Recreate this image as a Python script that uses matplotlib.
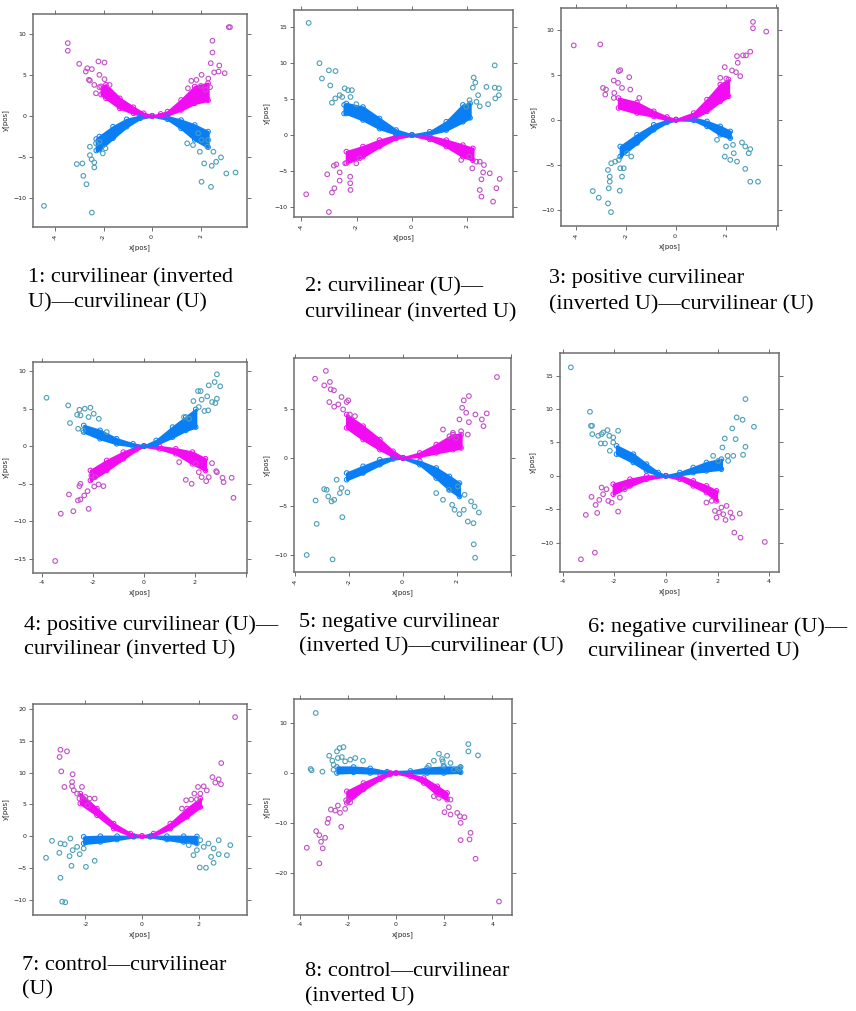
import numpy as np
import matplotlib
matplotlib.use("Agg")
import matplotlib.pyplot as plt

W, H = 856, 1011

# ---- data: bands are (x, low, high) of the dense core,
# ---- pts are the scattered single points (x, y)

p1_mag_band = [(-2.1, 2.6, 3.6), (-1.9, 2.15, 3.8), (-1.33, 0.93, 2.15), (-0.77, 0.33, 1.06),
               (-0.35, 0.04, 0.33), (0.0, 0.0, 0.03), (0.35, 0.03, 0.25), (0.63, 0.12, 0.53),
               (1.19, 0.73, 1.95), (1.75, 1.54, 3.58), (2.3, 1.9, 4.0)]
p1_mag_pts = [(3.15, 10.8), (3.2, 10.8), (-3.47, 8.86), (-3.47, 7.93), (-3.0, 6.34), (-2.21, 6.63),
              (-1.96, 6.5), (-2.67, 5.8), (-2.48, 5.7), (-2.73, 5.4), (-2.6, 4.4), (-2.56, 4.3),
              (-2.17, 5.0), (-1.96, 4.47), (-2.38, 3.78), (-2.17, 3.5), (-2.31, 2.76), (-1.75, 3.78),
              (2.48, 9.15), (2.48, 7.72), (2.41, 6.42), (2.76, 6.14), (2.98, 5.2), (2.55, 5.3),
              (2.73, 5.4), (2.31, 4.55), (2.03, 5.0), (1.61, 4.27), (1.82, 4.39), (2.38, 3.5),
              (2.2, 3.17), (2.0, 3.66), (1.47, 3.37)]
p1_blue_band = [(-2.3, -4.2, -2.8), (-2.17, -4.1, -2.5), (-1.61, -2.7, -1.3), (-1.05, -1.3, -0.4),
                (-0.49, -0.28, 0.0), (0.0, -0.03, 0.0), (0.63, -0.4, -0.08), (1.19, -1.5, -0.5),
                (1.75, -2.9, -1.1), (2.3, -3.8, -1.9)]
p1_blue_pts = [(-4.45, -10.93), (-2.48, -11.75), (-3.1, -5.85), (-2.87, -5.77), (-2.83, -7.28),
               (-2.7, -8.3), (-2.56, -3.74), (-2.56, -4.76), (-2.49, -5.28), (-2.38, -5.65),
               (-2.38, -6.26), (-2.31, -3.33), (-2.03, -4.55), (-1.92, -3.94), (-2.17, -3.13),
               (3.43, -6.87), (3.05, -6.99), (2.83, -5.04), (2.63, -5.57), (2.45, -6.06),
               (2.42, -8.62), (2.03, -8.0), (2.14, -5.77), (2.52, -4.35), (2.27, -3.74),
               (1.96, -4.35), (2.03, -2.93), (2.31, -2.93), (1.68, -3.54), (1.44, -3.33), (1.89, -2.11)]

p2_blue_band = [(-2.45, 3.0, 4.2), (-2.37, 3.0, 4.4), (-1.77, 2.1, 3.9), (-1.17, 0.9, 2.3),
                (-0.57, 0.14, 0.7), (0.0, 0.0, 0.03), (0.64, 0.14, 0.46), (1.24, 0.7, 1.85),
                (1.84, 1.85, 4.2), (2.1, 2.4, 4.4)]
p2_blue_pts = [(-3.73, 15.6), (-3.34, 10.0), (-3.25, 7.87), (-3.0, 9.0), (-2.76, 8.9), (-2.95, 6.9),
               (-2.89, 4.5), (-2.77, 5.1), (-2.61, 5.55), (-2.52, 5.3), (-2.43, 6.5), (-2.31, 6.25),
               (-2.17, 6.25), (-2.22, 5.3), (-2.01, 4.3), (2.99, 9.7), (2.23, 8.0), (2.29, 7.3),
               (2.2, 6.6), (2.39, 5.55), (2.69, 6.7), (2.99, 6.6), (3.14, 6.5), (3.01, 5.1),
               (3.14, 5.55), (2.75, 4.3), (2.33, 4.63), (2.08, 4.86), (1.96, 3.94), (2.45, 4.0)]
p2_mag_band = [(-2.37, -3.9, -2.3), (-1.77, -3.0, -1.6), (-1.17, -1.6, -0.7), (-0.57, -0.46, -0.05),
               (0.0, -0.03, 0.0), (0.64, -0.6, -0.14), (1.24, -1.6, -0.7), (1.84, -3.0, -1.4),
               (2.2, -3.5, -1.85)]
p2_mag_pts = [(-3.82, -8.24), (-3.0, -10.7), (-3.06, -5.46), (-2.82, -4.26), (-2.73, -4.07),
              (-2.61, -5.19), (-2.61, -6.34), (-2.8, -7.4), (-2.89, -8.0), (-2.23, -5.79),
              (-2.23, -6.7), (-2.22, -7.64), (-2.41, -3.94), (-2.01, -3.94), (-1.89, -3.24),
              (2.45, -7.64), (2.51, -8.56), (2.93, -9.26), (3.05, -7.4), (3.17, -6.1), (2.51, -6.16),
              (2.57, -5.19), (2.81, -5.32), (2.6, -4.17), (2.33, -3.7), (2.08, -3.0), (1.78, -3.47),
              (2.18, -4.63), (2.45, -3.7)]

p3_mag_band = [(-2.3, 1.3, 2.4), (-1.56, 0.74, 1.9), (-0.89, 0.37, 0.93), (-0.36, 0.0, 0.3),
               (0.0, -0.02, 0.03), (0.71, 0.19, 0.74), (1.24, 0.93, 2.23), (1.77, 2.04, 3.9),
               (2.1, 2.6, 4.46)]
p3_mag_pts = [(-4.09, 8.25), (-3.03, 8.36), (3.08, 10.86), (3.08, 10.15), (3.61, 9.78), (2.97, 7.55),
              (2.68, 7.14), (2.8, 7.14), (2.44, 7.06), (2.47, 6.32), (1.95, 5.84), (2.24, 5.46),
              (2.4, 5.28), (2.57, 4.83), (2.01, 4.57), (1.77, 4.65), (-2.29, 5.39), (-2.23, 5.5),
              (-2.49, 4.35), (-1.87, 4.72), (-2.92, 3.53), (-2.8, 3.35), (-2.83, 2.79), (-2.47, 2.97),
              (-2.49, 2.42), (-2.32, 4.09), (-2.16, 3.53), (-1.83, 3.35), (-1.47, 2.42)]
p3_blue_band = [(-2.23, -4.09, -2.97), (-1.56, -2.6, -1.67), (-0.89, -1.12, -0.56), (-0.36, -0.3, -0.07),
                (0.0, -0.03, 0.0), (0.71, -0.07, 0.19), (1.24, -0.74, -0.19), (1.77, -1.67, -0.74),
                (2.17, -2.04, -1.3)]
p3_blue_pts = [(-3.33, -7.92), (-3.09, -8.66), (-2.72, -9.29), (-2.6, -10.26), (-2.69, -7.62),
               (-2.65, -6.88), (-2.65, -6.32), (-2.72, -5.58), (-2.59, -4.83), (-2.43, -4.65),
               (-2.25, -7.88), (-2.16, -6.32), (-2.09, -5.39), (-2.23, -5.39), (-2.29, -4.46),
               (-1.96, -3.72), (-1.79, -4.09), (2.97, -6.88), (3.28, -6.88), (2.77, -5.46),
               (2.44, -4.65), (2.17, -4.46), (1.95, -4.09), (2.28, -2.79), (2.64, -2.53),
               (2.97, -3.27), (2.91, -3.72), (1.64, -2.23), (2.0, -2.97), (2.31, -3.72), (2.77, -2.97)]

p4_blue_band = [(-2.36, 1.87, 2.76), (-1.72, 0.98, 2.09), (-1.07, 0.31, 0.98), (-0.43, 0.0, 0.31),
                (0.0, 0.0, 0.03), (0.48, 0.22, 0.76), (1.12, 1.2, 2.53), (1.64, 2.09, 3.87),
                (2.03, 2.53, 4.9)]
p4_blue_pts = [(-3.82, 6.44), (-2.97, 5.42), (-2.9, 3.07), (-2.53, 4.84), (-2.49, 4.09), (-2.62, 4.18),
               (-2.32, 4.98), (-2.1, 5.11), (-2.17, 3.87), (-2.58, 2.31), (-2.39, 2.09), (-1.97, 4.31),
               (-1.77, 3.64), (-1.46, 1.87), (2.86, 9.56), (2.77, 8.53), (2.99, 7.96), (2.54, 8.09),
               (2.12, 7.33), (2.22, 7.33), (1.94, 6.0), (2.26, 6.18), (2.48, 6.62), (2.86, 6.31),
               (2.67, 5.87), (2.8, 5.73), (2.37, 4.67), (2.52, 4.76), (2.15, 5.2), (1.57, 3.87),
               (1.77, 3.64)]
p4_mag_band = [(-2.1, -4.58, -3.24), (-1.46, -3.24, -1.91), (-0.81, -1.69, -0.8), (-0.3, -0.49, -0.13),
               (0.0, -0.03, 0.0), (0.61, -0.36, -0.04), (1.25, -1.02, -0.36), (1.9, -2.36, -0.8),
               (2.41, -3.24, -1.69)]
p4_mag_pts = [(-3.48, -15.3), (-3.26, -9.0), (-2.94, -6.44), (-2.77, -8.67), (-2.59, -7.24),
              (-2.49, -7.11), (-2.34, -6.58), (-2.17, -8.36), (-2.21, -6.0), (-2.49, -5.02),
              (-2.53, -5.33), (-1.95, -5.38), (-1.78, -5.11), (-1.59, -5.33), (-1.91, -4.13),
              (-2.06, -3.91), (3.51, -6.89), (3.08, -4.22), (3.44, -4.22), (3.12, -4.8), (2.83, -3.33),
              (2.86, -3.47), (2.54, -4.13), (2.44, -4.67), (2.26, -4.13), (1.87, -5.02), (1.64, -4.49),
              (2.15, -3.47), (2.03, -2.36), (1.38, -2.13), (2.67, -2.27)]

p5_mag_band = [(-2.09, 3.1, 4.48), (-1.48, 1.9, 3.28), (-0.86, 0.86, 1.9), (-0.37, 0.17, 0.69),
               (0.0, 0.0, 0.03), (0.62, 0.17, 0.52), (1.23, 0.52, 1.38), (1.85, 0.86, 2.41),
               (2.15, 1.03, 2.41)]
p5_mag_pts = [(-3.26, 8.17), (-2.86, 8.97), (-2.71, 7.83), (-2.92, 7.48), (-2.68, 7.07), (-2.56, 6.97),
              (-2.73, 5.76), (-2.28, 6.28), (-2.55, 5.28), (-2.4, 5.52), (-2.09, 5.76), (-2.03, 5.93),
              (-2.22, 5.0), (-1.97, 4.48), (-1.78, 4.31), (3.48, 8.34), (2.44, 6.38), (2.25, 5.93),
              (2.19, 5.17), (2.34, 4.66), (2.09, 3.97), (2.44, 3.69), (2.68, 4.48), (2.92, 3.97),
              (3.1, 4.59), (2.98, 3.28), (2.4, 2.41), (1.48, 2.93), (1.72, 2.24), (1.97, 2.07),
              (2.15, 2.76), (1.85, 2.59)]
p5_blue_band = [(-2.09, -2.24, -1.55), (-1.48, -1.55, -0.86), (-0.86, -0.69, -0.17), (-0.37, -0.1, 0.05),
                (0.0, -0.03, 0.0), (0.62, -0.69, -0.34), (1.23, -2.07, -1.03), (1.72, -3.28, -1.9),
                (2.09, -3.97, -2.59)]
p5_blue_pts = [(-3.57, -10.0), (-2.61, -10.45), (-3.2, -6.79), (-3.24, -4.38), (-2.92, -3.21),
               (-2.83, -3.28), (-2.77, -3.97), (-2.65, -4.48), (-2.55, -4.31), (-2.28, -3.1),
               (-2.34, -3.62), (-2.06, -3.55), (-2.25, -6.1), (-2.46, -2.24), (2.62, -8.9),
               (2.67, -10.28), (2.4, -6.55), (2.61, -6.72), (2.81, -5.62), (2.65, -5.0), (2.52, -4.48),
               (2.25, -5.34), (2.09, -5.79), (1.91, -5.34), (1.82, -4.83), (1.48, -4.31), (1.23, -3.62),
               (1.7, -3.28), (2.28, -3.79), (2.03, -2.93)]

p6_blue_band = [(-1.91, 3.25, 4.5), (-1.26, 2.0, 3.25), (-0.75, 0.75, 1.75), (-0.3, 0.15, 0.5),
                (0.0, 0.0, 0.03), (0.54, 0.15, 0.5), (1.06, 0.5, 1.25), (1.57, 0.75, 2.0),
                (2.15, 1.0, 2.5)]
p6_blue_pts = [(-3.68, 16.25), (-2.94, 9.6), (-2.9, 7.5), (-2.86, 7.5), (-2.85, 6.25), (-2.62, 6.0),
               (-2.49, 6.25), (-2.43, 6.5), (-2.26, 6.85), (-2.19, 6.0), (-2.04, 5.75), (-1.85, 6.75),
               (-2.52, 4.85), (-2.36, 4.85), (-2.04, 5.0), (-2.17, 3.75), (3.08, 11.5), (2.74, 8.75),
               (2.97, 8.4), (3.41, 7.35), (2.57, 7.1), (2.28, 5.6), (2.7, 5.5), (3.08, 4.35),
               (2.99, 3.15), (2.19, 4.25), (2.39, 3.0), (2.61, 3.0), (2.41, 2.25), (1.83, 3.0),
               (2.03, 2.25)]
p6_mag_band = [(-2.04, -2.75, -1.25), (-1.39, -1.5, -0.5), (-0.75, -0.5, 0.0), (0.0, -0.03, 0.0),
               (0.54, -0.5, 0.0), (1.06, -1.5, -0.75), (1.57, -2.5, -1.5), (1.96, -3.75, -2.25)]
p6_mag_pts = [(-3.29, -12.5), (-2.75, -11.5), (-3.1, -5.85), (-2.88, -3.15), (-2.72, -4.35),
              (-2.66, -5.55), (-2.58, -3.6), (-2.43, -2.75), (-2.23, -3.75), (-2.1, -4.0),
              (-1.85, -5.35), (-1.78, -3.25), (-2.49, -1.75), (-2.3, -2.0), (-1.59, -2.0),
              (3.83, -9.9), (2.89, -9.25), (2.65, -8.5), (2.86, -5.65), (2.57, -6.25), (2.31, -6.6),
              (1.96, -6.25), (2.06, -5.5), (2.5, -5.5), (2.15, -4.75), (2.35, -4.5), (1.9, -5.25),
              (1.57, -4.0), (1.77, -3.75), (2.22, -5.75)]

p7_mag_band = [(-2.18, 5.13, 6.7), (-1.59, 3.3, 4.35), (-1.0, 1.2, 1.99), (-0.41, 0.1, 0.42),
               (0.0, 0.0, 0.05), (0.41, 0.1, 0.42), (1.0, 1.2, 1.99), (1.59, 3.04, 4.35),
               (2.06, 4.6, 5.92)]
p7_mag_pts = [(3.29, 18.74), (2.8, 11.5), (2.49, 9.3), (2.71, 8.95), (2.79, 8.17), (2.59, 8.43),
              (2.18, 7.85), (2.29, 7.2), (1.98, 7.75), (1.85, 6.7), (2.06, 6.7), (1.94, 5.81),
              (1.74, 5.76), (1.56, 5.65), (1.41, 4.35), (-2.88, 13.6), (-2.91, 12.46), (-2.65, 13.35),
              (-2.85, 10.2), (-2.45, 9.74), (-2.74, 7.75), (-2.47, 8.53), (-2.47, 7.85), (-2.29, 6.7),
              (-2.12, 7.75), (-2.41, 7.23), (-2.21, 5.92), (-2.0, 6.18), (-1.85, 5.92), (-1.67, 5.92),
              (-1.92, 4.87)]
p7_blue_band = [(-2.06, -1.15, -0.1), (-1.47, -0.9, 0.0), (-0.88, -0.52, 0.0), (-0.29, -0.1, 0.0),
                (0.29, -0.1, 0.0), (0.88, -0.52, 0.0), (1.47, -0.9, 0.0), (1.94, -1.15, -0.05)]
p7_blue_pts = [(-3.39, -3.4), (-3.18, -0.73), (-2.88, -1.15), (-2.73, -1.26), (-2.92, -2.62),
               (-2.88, -6.54), (-2.82, -10.3), (-2.71, -10.4), (-2.49, -4.66), (-2.56, -3.14),
               (-2.45, -2.2), (-2.29, -1.68), (-2.2, -2.83), (-1.98, -4.82), (-1.67, -3.87),
               (-2.06, -1.94), (-2.53, -0.37), (2.04, -4.92), (2.26, -4.97), (2.53, -4.19),
               (2.44, -3.25), (2.71, -2.83), (3.0, -2.98), (3.12, -1.41), (2.71, -0.63), (2.35, -1.15),
               (1.82, -2.98), (1.94, -2.2), (2.18, -1.68), (2.53, -1.94), (2.06, -0.63), (1.65, -1.41)]

p8_blue_band = [(-2.45, 0.0, 1.2), (-1.76, 0.13, 1.2), (-1.07, 0.0, 0.93), (-0.37, 0.0, 0.27),
                (0.6, 0.0, 0.4), (1.29, 0.0, 1.0), (1.98, 0.0, 1.2), (2.68, 0.13, 1.2)]
p8_blue_pts = [(-3.33, 12.0), (-3.54, 0.8), (-3.5, 0.53), (-3.05, 0.27), (-2.77, 3.46), (-2.64, 2.46),
               (-2.59, 1.66), (-2.45, 4.32), (-2.34, 4.98), (-2.18, 5.18), (-2.25, 3.19), (-2.41, 2.99),
               (-2.11, 2.33), (-1.9, 2.66), (-1.69, 2.99), (-1.37, 2.46), (-2.59, 0.66), (3.0, 5.78),
               (3.0, 4.32), (3.4, 3.52), (1.78, 3.85), (2.12, 3.46), (1.91, 2.79), (1.94, 2.33),
               (1.57, 2.46), (2.26, 1.99), (2.65, 1.13), (2.61, 0.8), (2.4, 0.66), (1.36, 1.46),
               (1.98, 1.46)]
p8_mag_band = [(-2.04, -5.98, -3.65), (-1.35, -3.3, -2.0), (-0.65, -1.2, -0.53), (-0.24, -0.27, 0.0),
               (0.0, -0.03, 0.0), (0.6, -0.66, -0.27), (1.15, -2.0, -1.0), (1.71, -4.32, -2.66),
               (2.12, -5.32, -3.99)]
p8_mag_pts = [(-3.7, -14.95), (-3.18, -18.07), (-3.31, -11.63), (-3.18, -12.43), (-3.11, -13.75),
              (-3.04, -15.08), (-2.94, -12.96), (-2.84, -9.97), (-2.8, -9.17), (-2.7, -7.31),
              (-2.52, -7.51), (-2.27, -10.76), (-2.32, -7.97), (-2.41, -6.51), (-2.11, -7.18),
              (-2.07, -5.45), (-1.9, -5.85), (4.27, -25.7), (3.3, -17.14), (3.05, -13.29),
              (3.09, -11.96), (2.84, -8.84), (2.68, -13.42), (2.68, -9.97), (2.65, -8.64),
              (2.54, -7.97), (2.26, -8.31), (2.01, -7.84), (2.19, -6.84), (2.26, -5.32),
              (1.57, -4.65), (1.78, -4.98)]

captions = [
    ["1: curvilinear (inverted", "U)\u2014curvilinear (U)"],
    ["2: curvilinear (U)\u2014", "curvilinear (inverted U)"],
    ["3: positive curvilinear", "(inverted U)\u2014curvilinear (U)"],
    ["4: positive curvilinear (U)\u2014", "curvilinear (inverted U)"],
    ["5: negative curvilinear", "(inverted U)\u2014curvilinear (U)"],
    ["6: negative curvilinear (U)\u2014", "curvilinear (inverted U)"],
    ["7: control\u2014curvilinear", "(U)"],
    ["8: control\u2014curvilinear", "(inverted U)"],
]

# ---- layout: axes box in pixels (left, right, top, bottom), limits, ticks
panels = [
    dict(box=(33, 247, 14, 227), xlim=(-4.9, 3.9), ylim=(-13.5, 12.4),
         xt=[-4, -2, 0, 2], yt=[-10, -5, 0, 5, 10], rot=90,
         series=[("blue", p1_blue_band, p1_blue_pts), ("mag", p1_mag_band, p1_mag_pts)],
         cap=(28, 278, 303)),
    dict(box=(294, 513, 10, 217), xlim=(-4.26, 3.65), ylim=(-11.4, 17.4),
         xt=[-4, -2, 0, 2], yt=[-10, -5, 0, 5, 10, 15], rot=90,
         series=[("mag", p2_mag_band, p2_mag_pts), ("blue", p2_blue_band, p2_blue_pts)],
         cap=(305, 287, 313)),
    dict(box=(561, 778, 8, 226), xlim=(-4.6, 4.08), ylim=(-11.8, 12.4),
         xt=[-4, -2, 0, 2, 4], yt=[-10, -5, 0, 5, 10], rot=90,
         series=[("blue", p3_blue_band, p3_blue_pts), ("mag", p3_mag_band, p3_mag_pts)],
         cap=(549, 278, 305)),
    dict(box=(33, 247, 362, 573), xlim=(-4.35, 4.04), ylim=(-16.9, 11.2),
         xt=[-4, -2, 0, 2, 4], yt=[-15, -10, -5, 0, 5, 10], rot=0,
         series=[("mag", p4_mag_band, p4_mag_pts), ("blue", p4_blue_band, p4_blue_pts)],
         cap=(24, 625, 650)),
    dict(box=(294, 511, 358, 572), xlim=(-4.04, 4.0), ylim=(-11.75, 10.3),
         xt=[-4, -2, 0, 2, 4], yt=[-10, -5, 0, 5], rot=90,
         series=[("blue", p5_blue_band, p5_blue_pts), ("mag", p5_mag_band, p5_mag_pts)],
         cap=(299, 622, 647)),
    dict(box=(560, 779, 353, 572), xlim=(-4.1, 4.38), ylim=(-14.4, 18.4),
         xt=[-4, -2, 0, 2, 4], yt=[-10, -5, 0, 5, 10, 15], rot=0,
         series=[("mag", p6_mag_band, p6_mag_pts), ("blue", p6_blue_band, p6_blue_pts)],
         cap=(588, 627, 652)),
    dict(box=(33, 247, 704, 915), xlim=(-3.85, 3.71), ylim=(-12.4, 20.8),
         xt=[-2, 0, 2], yt=[-10, -5, 0, 5, 10, 15, 20], rot=0,
         series=[("blue", p7_blue_band, p7_blue_pts), ("mag", p7_mag_band, p7_mag_pts)],
         cap=(22, 965, 990)),
    dict(box=(294, 512, 699, 915), xlim=(-4.23, 4.81), ylim=(-28.4, 14.8),
         xt=[-4, -2, 0, 2, 4], yt=[-20, -10, 0, 10], rot=0,
         series=[("blue", p8_blue_band, p8_blue_pts), ("mag", p8_mag_band, p8_mag_pts)],
         cap=(305, 972, 997)),
]

core_col = {"blue": "#0a7ff5", "mag": "#f20cf2"}
out_col = {"blue": "#4d9fb8", "mag": "#c24fc8"}
frame = "#6e6e6e"

fig = plt.figure(figsize=(W / 100, H / 100), dpi=100)
fig.patch.set_facecolor("white")

for idx, p in enumerate(panels):
    l, r, t, b = p["box"]
    ax = fig.add_axes([l / W, 1 - b / H, (r - l) / W, (b - t) / H])
    for kind, band, pts in p["series"]:
        bx, lo, hi = np.array(band).T
        ax.fill_between(bx, lo, hi, color=core_col[kind], lw=1.6,
                        edgecolor=core_col[kind], zorder=2)
        ax.scatter(np.r_[bx, bx], np.r_[lo, hi], s=11, facecolor="none",
                   edgecolor=core_col[kind], lw=0.7, zorder=3)
        px, py = np.array(pts).T
        ax.scatter(px, py, s=11, facecolor="none", edgecolor=out_col[kind], lw=0.8, zorder=4)
    ax.set_xlim(*p["xlim"])
    ax.set_ylim(*p["ylim"])
    ax.set_xticks(p["xt"])
    ax.set_yticks(p["yt"])
    ax.set_xticklabels([str(v) if v < p["xlim"][1] - 0.2 else "" for v in p["xt"]],
                       rotation=p["rot"])
    ax.tick_params(direction="out", length=3, width=0.7, color=frame, labelsize=4.5,
                   labelcolor="#222222", pad=2, top=True, right=True)
    for s in ax.spines.values():
        s.set_color(frame)
        s.set_linewidth(1.1)
    ax.set_xlabel("x[pos]", fontsize=5, color="#222222", labelpad=3)
    ax.set_ylabel("y[pos]", fontsize=5, color="#222222", labelpad=3)

    cx, y1, y2 = p["cap"]
    for line, yy in zip(captions[idx], (y1, y2)):
        fig.text(cx / W, 1 - yy / H, line, fontsize=16, family="Liberation Serif",
                 ha="left", va="center", color="black")

fig.savefig("out.png", dpi=100, facecolor="white")
